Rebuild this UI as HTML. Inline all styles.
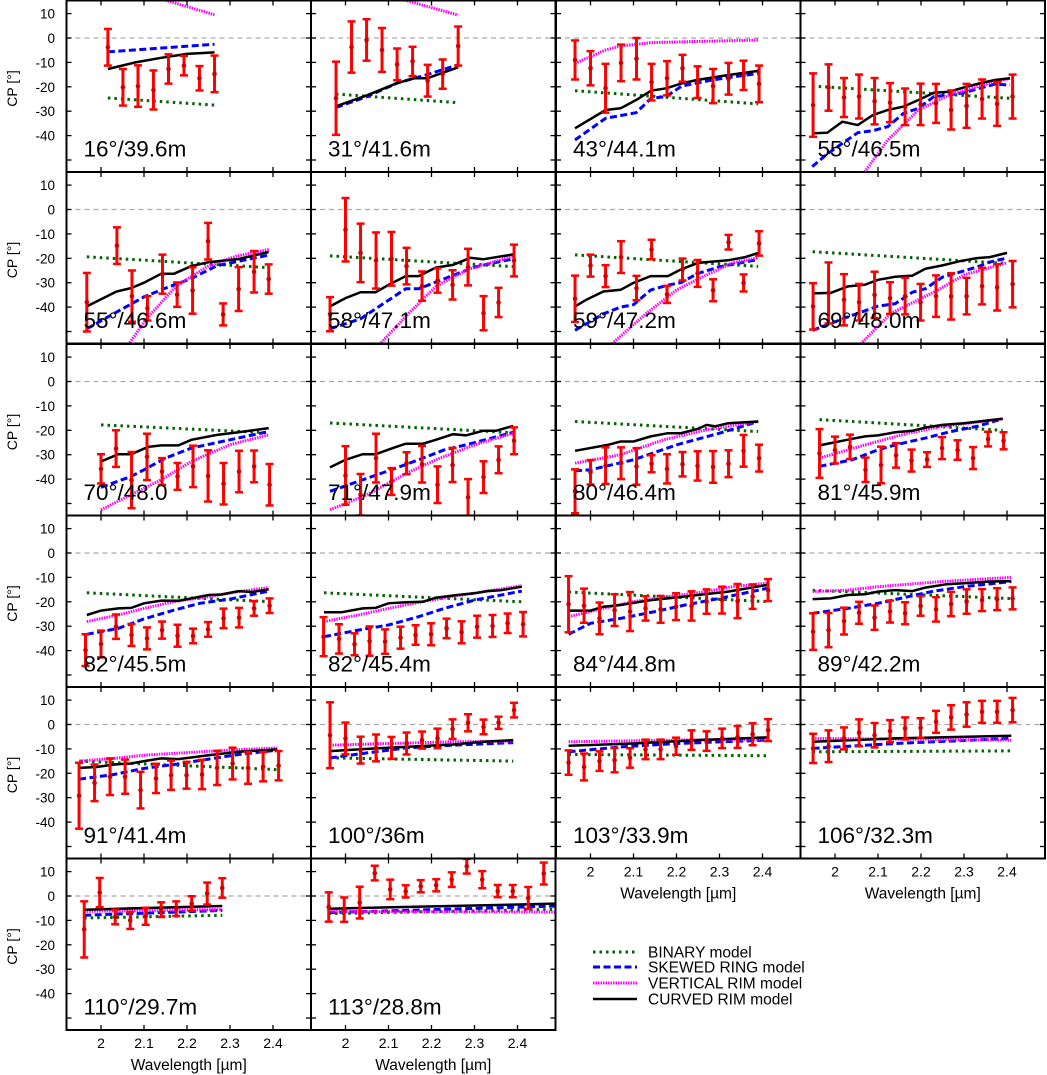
<!DOCTYPE html>
<html><head><meta charset="utf-8"><title>CP panels</title>
<style>html,body{margin:0;padding:0;background:#fff}svg{display:block;font-family:"Liberation Sans",Arial,sans-serif}</style>
</head><body>
<svg id="chart" width="1047" height="1075" viewBox="0 0 1047 1075" xmlns="http://www.w3.org/2000/svg"></svg>
<script>
// ---------- DATA ----------
const W13 = [1.964,2.0,2.035,2.071,2.107,2.142,2.178,2.214,2.249,2.285,2.321,2.356,2.392];
const W12 = [2.0,2.035,2.071,2.107,2.142,2.178,2.214,2.249,2.285,2.321,2.356,2.392];
const W14 = [1.949,1.985,2.021,2.056,2.092,2.128,2.163,2.199,2.235,2.270,2.306,2.342,2.377,2.413];
const panelLabels = ["16°/39.6m","31°/41.6m","43°/44.1m","55°/46.5m","55°/46.6m","58°/47.1m","59°/47.2m","69°/48.0m","70°/48.0","71°/47.9m","80°/46.4m","81°/45.9m","82°/45.5m","82°/45.4m","84°/44.8m","89°/42.2m","91°/41.4m","100°/36m","103°/33.9m","106°/32.3m","110°/29.7m","113°/28.8m"];
const panelRows = [0,0,0,0,1,1,1,1,2,2,2,2,3,3,3,3,4,4,4,4,5,5];
const panelCols = [0,1,2,3,0,1,2,3,0,1,2,3,0,1,2,3,0,1,2,3,0,1];
const wavelengths = [
 [2.016,2.051,2.086,2.122,2.157,2.193,2.229,2.264],
 [1.978,2.014,2.049,2.085,2.120,2.156,2.191,2.226,2.262],
 W13, W14,
 [1.967,2.037,2.072,2.108,2.143,2.177,2.213,2.249,2.284,2.32,2.356,2.39],
 W13, W13, W14, W12, W12, W13, W13, W13, W14, W14, W14, W14, W13, W14, W14,
 [1.961,1.997,2.033,2.068,2.104,2.140,2.175,2.211,2.247,2.282],
 [1.961,1.997,2.033,2.068,2.104,2.140,2.175,2.211,2.247,2.282,2.318,2.354,2.389,2.425,2.461]
];
const cpValues = [
 [-3.8,-20.2,-19.7,-21.3,-12.7,-11.3,-16.5,-14.7],
 [-24.7,-3.7,-0.8,-4.9,-10.8,-9.6,-17.5,-14.8,-3.3],
 [-9,-12.4,-20.6,-10.2,-8.5,-18.1,-16.5,-12.4,-18.1,-19.7,-16.7,-15.3,-18.8],
 [-27.5,-20.3,-24.4,-24,-25.9,-26.5,-28.2,-27.2,-26.8,-29.5,-27.8,-25,-27,-24],
 [-38,-14.8,-35.5,-40.5,-26.5,-34.9,-33.2,-13,-43,-32.6,-25.5,-28.5],
 [-42.9,-8.3,-17.8,-20.9,-20.2,-23.2,-31.4,-29.1,-30.9,-23.6,-42.5,-38.1,-20.9],
 [-36.6,-23,-27.3,-19.5,-32.2,-16.4,-34.8,-24.6,-26.2,-33.1,-13.4,-30.1,-13.9],
 [-39.7,-34.2,-37,-38,-35,-36.3,-35.5,-38,-35.5,-35.6,-35.5,-31.4,-31.9,-30.6],
 [-35.8,-27.5,-40.4,-30.9,-36.9,-38.9,-34.8,-38.7,-41.9,-36.9,-34.8,-42.3],
 [-38.5,-46.4,-31.4,-41,-33.5,-33.9,-42.3,-34.2,-47.5,-39.2,-32.1,-24.3],
 [-45,-37.2,-34.5,-33.5,-34.8,-33.7,-35.8,-33.9,-34.6,-35,-33.7,-28.4,-31.4],
 [-29.5,-28.1,-26.8,-36.2,-34.2,-30.3,-32.4,-32,-27.3,-28.1,-31.4,-23.6,-24.3],
 [-39.8,-37.3,-30.2,-33.6,-35,-31.6,-33.9,-34,-31.3,-26.8,-26.5,-22.7,-21.6],
 [-34.3,-35.2,-37.4,-36.1,-36.3,-34.7,-33.6,-33.3,-30.9,-32.5,-30.2,-29.9,-28.8,-29.2],
 [-21,-21.6,-26.8,-23.4,-24,-22.7,-23.1,-22,-21.7,-19.9,-19.3,-19.7,-17.9,-15.2],
 [-32.2,-31.6,-27.9,-24.5,-26.5,-24,-24.7,-21.7,-23.1,-20.9,-19.9,-19.3,-18.9,-18.6],
 [-29.2,-23.9,-21.4,-21.4,-26.9,-22.1,-20.8,-20.8,-20.5,-17.8,-16,-17.8,-17.3,-16.9],
 [-4.4,-5.7,-10.5,-9.6,-9.6,-7.8,-6.4,-5.7,-1.9,0.7,-1,0.7,5.9],
 [-15.6,-17.4,-15,-14.6,-13.7,-10.2,-10.2,-8.9,-6.4,-6.8,-5.7,-5.1,-4,-2.3],
 [-9.8,-8.9,-5.7,-3.4,-4.4,-2.7,-1.6,-1.4,1.1,2.9,4.1,5.2,5.2,5.9],
 [-13.7,1.4,-8.6,-10,-8.3,-5.6,-5.2,-3.1,1,3.3],
 [-4.5,-5.6,-2.7,9.4,2.7,1.9,4,4.4,6.7,12.2,6.7,2,2,-0.8,9.2]
];
const cpErrors = [
 [7.5,7.5,8.5,8,6,4,5,7.5],
 [15,10.5,8.5,9,6.5,6,6.5,6,8],
 [8,7,10,7.5,8.5,7.5,7,5.5,6.5,7,6.5,6,7.5],
 [13,9.5,8,9,9.5,8,7.5,8.5,8,8,9,8,9,9],
 [12,7.5,10.5,5,8,5,9.5,7.5,4.5,9,8.5,6],
 [7,13,12,11.5,11,7.5,6,5,6,7.5,7,6,6.5],
 [9.5,4.5,4.5,6.5,5,4,3.5,4.5,5.5,4.5,3,3.5,5],
 [9.5,12.5,10.5,7.5,9.5,6.5,7.5,7.5,8.5,9.5,7.5,7.5,9.5,9.5],
 [6,7.5,11.5,9.5,5.5,5.5,8.5,10.5,8.5,8.5,6.5,8.5],
 [12,8.5,10,5.5,4.5,7.5,7.5,7,7.5,6.5,5.5,5.5],
 [9,5,7.5,6.5,7.5,3.5,6,5,6,6.5,5.5,6.5,5.5],
 [10,5.5,5,5,7.5,5,4.5,3,4.5,4,4.5,3,3.5],
 [6.5,5.5,5,4.5,4.5,3.5,4.5,3,3,4,4,3,3],
 [8,6,4.5,6,5,4.5,4,4.5,4,4.5,4.5,4.5,4,5],
 [11.5,7,6.5,6.5,8,5,5.5,5.5,6,5,5.5,7,5,4.5],
 [7.5,7,5.5,4.5,5,4.5,4.5,4,5,5,5,4.5,4.5,4.5],
 [13.5,7.5,7.5,7,7.5,6,6,5.5,6,7,6.5,6.5,6,6],
 [13.5,6.5,5.5,5.5,4.5,4.5,3.5,4,4,3.5,3,2.5,3],
 [5,5.5,4,5,4,4,4,3.5,4,4,4,4.5,4.5,4.5],
 [6,6.5,4.5,5.5,5,4.5,4.5,4,4.5,5,5,4.5,4.5,5],
 [11.5,6,3,3.5,3.5,3,3,3,4.5,4],
 [6,5,6.5,3,4,2.5,2.5,2.5,3,3,3.5,2.5,2.5,4.5,4.5]
];
const binaryModel = [
 [[2.016,-24.6],[2.264,-27.5]],[[1.978,-23],[2.262,-26.5]],[[1.964,-21.6],[2.39,-27]],[[1.947,-19.7],[2.407,-24.7]],
 [[1.967,-19.4],[2.39,-23.8]],[[1.964,-19],[2.39,-23.4]],[[1.964,-18.6],[2.39,-23.3]],[[1.948,-17.3],[2.4,-22.1]],
 [[2.0,-17.8],[2.39,-21]],[[1.964,-17],[2.39,-21]],[[1.964,-16.4],[2.39,-20.5]],[[1.964,-15.6],[2.39,-20]],
 [[1.967,-16.3],[2.39,-19.9]],[[1.95,-16.3],[2.41,-20]],[[1.949,-16],[2.41,-19.9]],[[1.948,-15.3],[2.41,-18.7]],
 [[1.949,-15],[2.41,-18.5]],[[1.964,-13.7],[2.39,-15]],[[1.949,-12.3],[2.41,-12.8]],[[1.948,-11.2],[2.41,-10.8]],
 [[1.961,-9],[2.282,-7.9]],[[1.961,-7.2],[2.495,-5.5]]
];
const skewedRingModel = [
 [[2.016,-5.7],[2.264,-2.6]],
 [[1.978,-28.5],[2.05,-24],[2.12,-18.5],[2.19,-15],[2.262,-11]],
 [[1.964,-41.8],[2.035,-32.9],[2.106,-30.6],[2.141,-24.7],[2.176,-24],[2.212,-19.7],[2.283,-17.2],[2.39,-14.5]],
 [[1.947,-52.7],[1.982,-47.5],[2.017,-43.2],[2.053,-38.8],[2.088,-38],[2.123,-36.3],[2.159,-30.9],[2.194,-28.8],[2.23,-24],[2.265,-23.4],[2.301,-22.4],[2.336,-20.6],[2.372,-18.9],[2.407,-19.3]],
 [[1.967,-48.9],[2.04,-41.7],[2.1,-35.8],[2.15,-32.2],[2.21,-28.3],[2.27,-23],[2.39,-18.7]],
 [[1.964,-48.9],[2.035,-44.8],[2.07,-40.7],[2.14,-32.5],[2.17,-32.5],[2.25,-27],[2.3,-23.6],[2.39,-20.2]],
 [[1.964,-49.5],[2.03,-42.8],[2.07,-40],[2.1,-39],[2.14,-33],[2.18,-31],[2.21,-30],[2.25,-26.2],[2.3,-23.5],[2.39,-20.5]],
 [[1.948,-49.5],[2.03,-44],[2.1,-39.6],[2.14,-38.6],[2.18,-33.9],[2.21,-32.5],[2.25,-27.7],[2.33,-23.6],[2.36,-21.5],[2.4,-19.9]],
 [[2.0,-43.4],[2.07,-38.9],[2.1,-36.2],[2.15,-31.4],[2.21,-27.3],[2.3,-23.9],[2.39,-20.5]],
 [[1.964,-45],[2.04,-40.3],[2.1,-36.6],[2.17,-32.1],[2.23,-28],[2.28,-26],[2.39,-20.8]],
 [[1.964,-36.6],[2.0,-36.2],[2.1,-32.1],[2.2,-26],[2.3,-21.2],[2.39,-16.4]],
 [[1.964,-34.8],[2.04,-32.1],[2.1,-28],[2.14,-26],[2.21,-23.2],[2.27,-20.5],[2.33,-18.4],[2.39,-15.3]],
 [[1.967,-33.3],[2.04,-30.9],[2.1,-27],[2.17,-23.4],[2.23,-20.6],[2.3,-18.9],[2.39,-15.6]],
 [[1.95,-34.3],[2.03,-31.6],[2.1,-29.5],[2.17,-26.1],[2.23,-22.7],[2.3,-19.3],[2.41,-15.6]],
 [[1.949,-33.3],[2.0,-28.8],[2.07,-26.8],[2.15,-24],[2.22,-21.3],[2.3,-18.6],[2.41,-14.5]],
 [[1.948,-24.7],[2.03,-22.7],[2.1,-20.6],[2.17,-17.9],[2.23,-15.6],[2.3,-13.8],[2.41,-11.7]],
 [[1.949,-22.4],[2.03,-20.5],[2.1,-18],[2.17,-16.4],[2.25,-14.2],[2.32,-12.3],[2.41,-10.5]],
 [[1.964,-13.7],[2.04,-11.9],[2.14,-9.6],[2.25,-8.5],[2.39,-7.4]],
 [[1.949,-11.2],[2.07,-9.2],[2.2,-7.8],[2.41,-6.4]],
 [[1.948,-9.8],[2.14,-7.8],[2.41,-5.7]],
 [[1.961,-7.9],[2.282,-5.9]],
 [[1.961,-6.8],[2.495,-4.1]]
];
const verticalRimModel = [
 [[2.144,15.8],[2.264,9.5]],[[2.132,15.8],[2.262,9.4]],
 [[1.964,-10.4],[2.035,-4.9],[2.07,-3.3],[2.141,-1.9],[2.39,-0.8]],
 [[2.069,-54.9],[2.123,-41.8],[2.194,-29.5],[2.265,-23.4],[2.336,-19.7],[2.407,-16.5]],
 [[2.067,-54.6],[2.105,-45],[2.175,-31.4],[2.249,-23.2],[2.315,-19.1],[2.39,-16.4]],
 [[2.083,-54.6],[2.141,-43.7],[2.211,-31.4],[2.285,-24.6],[2.39,-19.1]],
 [[2.05,-55],[2.13,-42.6],[2.2,-33],[2.27,-26.8],[2.33,-21.9],[2.39,-19.8]],
 [[2.06,-55],[2.13,-42.6],[2.24,-33],[2.3,-26.8],[2.4,-21.9]],
 [[2.0,-52.6],[2.07,-46.4],[2.14,-40.3],[2.21,-32.8],[2.3,-25.9],[2.39,-21.9]],
 [[1.964,-52.6],[2.05,-46.4],[2.1,-41.7],[2.15,-36.9],[2.22,-31.4],[2.3,-26],[2.39,-21.2]],
 [[1.964,-33.5],[2.07,-30],[2.17,-23.9],[2.27,-19.8],[2.39,-16.4]],
 [[1.964,-31.4],[2.07,-26],[2.17,-21.2],[2.25,-18.4],[2.39,-15.3]],
 [[1.967,-28.1],[2.04,-25.4],[2.1,-22.7],[2.17,-19.9],[2.25,-17.9],[2.32,-15.8],[2.39,-14.2]],
 [[1.95,-28.1],[2.03,-25.4],[2.1,-22.7],[2.18,-19.9],[2.26,-17.5],[2.33,-15.6],[2.41,-13.4]],
 [[1.949,-26.1],[2.03,-22.7],[2.1,-19.9],[2.18,-17.9],[2.27,-15.8],[2.33,-13.8],[2.41,-12.4]],
 [[1.948,-15.8],[2.03,-15.2],[2.1,-13.8],[2.17,-12.8],[2.25,-11.7],[2.33,-10.8],[2.41,-10]],
 [[1.949,-15],[2.03,-13.9],[2.1,-12.6],[2.2,-11.5],[2.3,-10.5],[2.41,-9.6]],
 [[1.964,-8.5],[2.1,-7.8],[2.25,-7.1],[2.39,-6.8]],
 [[1.949,-7.1],[2.2,-6.4],[2.41,-6]],
 [[1.948,-5.7],[2.41,-6.4]],
 [[1.961,-6.3],[2.282,-5.5]],
 [[1.961,-6.3],[2.495,-6.6]]
];
const curvedRimModel = [
 [[2.016,-12.7],[2.08,-10],[2.14,-8.1],[2.2,-6.5],[2.264,-5.9]],
 [[1.978,-28],[2.05,-23.5],[2.12,-18.5],[2.16,-16.5],[2.19,-16.5],[2.262,-12]],
 [[1.964,-37],[2.035,-29.5],[2.07,-28.8],[2.106,-25.4],[2.141,-21.6],[2.176,-20.6],[2.212,-18.6],[2.247,-17.2],[2.319,-15.2],[2.39,-13.5]],
 [[1.947,-39.1],[1.982,-38.8],[2.017,-34.3],[2.053,-35.7],[2.088,-31.6],[2.123,-29.5],[2.159,-28.1],[2.194,-25.4],[2.23,-22.4],[2.265,-22],[2.301,-20.2],[2.336,-18.6],[2.372,-17.2],[2.407,-16.5]],
 [[1.967,-39.7],[2.036,-33.6],[2.07,-32.2],[2.1,-30],[2.14,-26.3],[2.17,-26.3],[2.21,-23.2],[2.25,-21.6],[2.32,-20.3],[2.39,-17.4]],
 [[1.964,-39.7],[2.0,-36.3],[2.035,-33.9],[2.07,-33.9],[2.1,-30.9],[2.14,-27.3],[2.17,-27.3],[2.21,-23.8],[2.25,-22.7],[2.29,-19.8],[2.32,-20.4],[2.39,-18.4]],
 [[1.964,-39.7],[1.99,-37],[2.03,-33.6],[2.07,-32.9],[2.1,-30.1],[2.14,-27.3],[2.18,-27.3],[2.21,-24.6],[2.25,-21.9],[2.32,-20.8],[2.36,-19.5],[2.39,-17.8]],
 [[1.948,-34.4],[1.99,-34.2],[2.03,-31.5],[2.07,-30.8],[2.1,-28.8],[2.14,-27.6],[2.18,-27.1],[2.21,-24.3],[2.25,-22.9],[2.29,-21.2],[2.33,-19.9],[2.36,-19.5],[2.4,-17.8]],
 [[2.0,-32.8],[2.04,-29.8],[2.07,-29.8],[2.11,-26.8],[2.14,-26.2],[2.18,-26.2],[2.21,-23.9],[2.27,-21.9],[2.32,-20.8],[2.39,-19.1]],
 [[1.964,-35.2],[2.0,-32.1],[2.04,-29.8],[2.07,-29.8],[2.11,-27.3],[2.14,-25.5],[2.18,-25.5],[2.21,-23.9],[2.25,-21.6],[2.28,-22.1],[2.32,-20.2],[2.35,-20.2],[2.39,-18.2]],
 [[1.964,-28.4],[2.04,-26],[2.07,-24.6],[2.1,-24.6],[2.14,-22.5],[2.18,-21.2],[2.21,-21.2],[2.25,-19.4],[2.27,-17.8],[2.29,-18.4],[2.32,-17.1],[2.39,-16.4]],
 [[1.964,-26.2],[2.04,-23.5],[2.07,-22.5],[2.1,-22.1],[2.14,-20.8],[2.18,-20.2],[2.21,-18.9],[2.25,-17.8],[2.3,-17.1],[2.39,-15.3]],
 [[1.967,-25.4],[2.0,-23.6],[2.04,-22.7],[2.07,-22.5],[2.1,-20.6],[2.14,-19.5],[2.18,-19.6],[2.21,-18.6],[2.25,-17.2],[2.28,-17],[2.32,-15.6],[2.35,-16],[2.39,-14.9]],
 [[1.95,-24.3],[1.99,-24.3],[2.04,-22.7],[2.07,-22.5],[2.1,-20.6],[2.14,-20.2],[2.18,-20],[2.21,-18.3],[2.26,-17.2],[2.3,-16.5],[2.33,-15.6],[2.36,-15.3],[2.41,-13.8]],
 [[1.949,-23.6],[2.0,-23.6],[2.03,-22],[2.07,-21.3],[2.14,-19.3],[2.18,-18.6],[2.25,-17.2],[2.32,-15.8],[2.41,-13.1]],
 [[1.948,-18.9],[1.99,-18.6],[2.03,-17.2],[2.07,-16.9],[2.1,-15.8],[2.14,-15.2],[2.18,-15.6],[2.21,-14.2],[2.26,-12.8],[2.3,-12.4],[2.36,-11.7],[2.41,-11.5]],
 [[1.949,-17.8],[1.99,-17.4],[2.03,-16.4],[2.07,-16],[2.1,-15],[2.14,-13.9],[2.18,-14.2],[2.25,-12.6],[2.32,-11.2],[2.41,-10.2]],
 [[1.964,-10.9],[2.04,-10.1],[2.14,-9.2],[2.25,-8.2],[2.32,-7.1],[2.39,-6.4]],
 [[1.949,-8.7],[2.1,-7.8],[2.25,-6.4],[2.41,-5.3]],
 [[1.948,-7.1],[2.14,-5.7],[2.41,-4.6]],
 [[1.961,-5.6],[2.282,-4.1]],
 [[1.961,-5.2],[2.495,-3.1]]
];
const yTicks = [10,0,-10,-20,-30,-40,-50];
const yTickLabels = ["10","0","-10","-20","-30","-40"];
const xTicks = [2.0,2.1,2.2,2.3,2.4];
const xTickLabels = ["2","2.1","2.2","2.3","2.4"];
const legendNames = ["BINARY model","SKEWED RING model","VERTICAL RIM model","CURVED RIM model"];

// ---------- LAYOUT ----------
const NS = "http://www.w3.org/2000/svg";
const svg = document.getElementById('chart');
const colLeft = [66.5,311,556,800.5];
const rowTop = [0.5,172,344,515.5,687,858.5];
const PW = 244.5, PH = 171.5, YS = 2.44;
const styles = {
  bin:{stroke:"#006400",w:3,dash:"2.5,4"},
  skew:{stroke:"#0000ff",w:3,dash:"7,3.5"},
  vert:{stroke:"#ff00ff",w:3,dash:"1.5,1"},
  curv:{stroke:"#000000",w:2.5,dash:null}
};
function mk(tag, attrs, parent){
  const e = document.createElementNS(NS, tag);
  for (const k in attrs) e.setAttribute(k, attrs[k]);
  (parent||svg).appendChild(e);
  return e;
}
const defs = mk('defs',{});

panelLabels.forEach((lab, i) => {
  const L = colLeft[panelCols[i]], T = rowTop[panelRows[i]];
  const xs = w => L + 34.5 + (w - 2) * 430;
  const zero = T + 37.5;
  const ys = v => zero - v * YS;
  const g = mk('g', {});
  
  
  const cp = mk('clipPath', {id:'clip'+i}, defs);
  mk('rect', {x:L, y:T, width:PW, height:PH}, cp);
  const inner = mk('g', {'clip-path':'url(#clip'+i+')'}, g);
  const zl = mk('line', {x1:L, x2:L+PW, y1:zero, y2:zero, stroke:"#aaaaaa", 'stroke-width':1.2, 'stroke-dasharray':"5,4"}, inner);
  
  
  const models = [['bin',binaryModel],['skew',skewedRingModel],['vert',verticalRimModel],['curv',curvedRimModel]];
  models.forEach(([key, arr]) => {
    const st = styles[key];
    const d = arr[i].map((p, j) => (j ? 'L' : 'M') + xs(p[0]).toFixed(1) + ',' + ys(p[1]).toFixed(1)).join('');
    const a = {d:d, fill:'none', stroke:st.stroke, 'stroke-width':st.w};
    if (st.dash) a['stroke-dasharray'] = st.dash;
    const p = mk('path', a, inner);
    
    
  });
  wavelengths[i].forEach((w, j) => {
    const x = xs(w), v = cpValues[i][j], e = cpErrors[i][j];
    const y1 = ys(v + e), y2 = ys(v - e);
    const eg = mk('g', {}, inner);
    
    
    mk('line', {x1:x, x2:x, y1:y1, y2:y2, stroke:"#ff0000", 'stroke-width':3}, eg);
    mk('line', {x1:x-4, x2:x+4, y1:y1, y2:y1, stroke:"#ff0000", 'stroke-width':2.5}, eg);
    mk('line', {x1:x-4, x2:x+4, y1:y2, y2:y2, stroke:"#ff0000", 'stroke-width':2.5}, eg);
    mk('circle', {cx:x, cy:ys(v), r:2.3, fill:"#cc0000"}, eg);
  });
  yTicks.forEach(t => {
    const y = ys(t);
    if (y > T + 1 && y < T + PH - 1) {
      mk('line', {x1:L, x2:L+5, y1:y, y2:y, stroke:"#000", 'stroke-width':1.3}, g);
      mk('line', {x1:L+PW-5, x2:L+PW, y1:y, y2:y, stroke:"#000", 'stroke-width':1.3}, g);
    }
  });
  xTicks.forEach(t => {
    const x = xs(t);
    mk('line', {x1:x, x2:x, y1:T, y2:T+5, stroke:"#000", 'stroke-width':1.3}, g);
    mk('line', {x1:x, x2:x, y1:T+PH-5, y2:T+PH, stroke:"#000", 'stroke-width':1.3}, g);
  });
  const fr = mk('rect', {x:L, y:T, width:PW, height:PH, fill:'none', stroke:'#000', 'stroke-width':2}, g);
  
  
  const tl = mk('text', {x:L+17, y:T+156, 'font-size':22.5, fill:'#000'}, g);
  tl.textContent = lab;
  
  
  if (panelCols[i] === 0) {
    yTickLabels.forEach((s, k) => {
      const t = mk('text', {x:55, y:ys(yTicks[k])+5, 'font-size':13.5, 'text-anchor':'end', fill:'#000'}, g);
      t.textContent = s;
      
      
    });
    const yt = mk('text', {x:0, y:0, 'font-size':14, 'text-anchor':'middle', fill:'#000', transform:'translate(17,'+(T+88)+') rotate(-90)'}, g);
    yt.textContent = 'CP [°]';
    
    
  }
  const hasBelow = panelRows.some((r, k) => r === panelRows[i] + 1 && panelCols[k] === panelCols[i]);
  if (!hasBelow) {
    const B = T + PH;
    xTickLabels.forEach((s, k) => {
      const t = mk('text', {x:xs(xTicks[k]), y:B+18, 'font-size':14, 'text-anchor':'middle', fill:'#000'}, g);
      t.textContent = s;
      
      
    });
    const xt = mk('text', {x:L+PW/2, y:B+40, 'font-size':15.5, 'text-anchor':'middle', fill:'#000'}, g);
    xt.textContent = 'Wavelength [µm]';
    
    
  }
});

const lg = mk('g', {});


const legendKeys = ['bin','skew','vert','curv'];
const legendY = [952,967,983,999];
legendNames.forEach((n, k) => {
  const st = styles[legendKeys[k]];
  const eg = mk('g', {}, lg);
  
  
  const a = {x1:593, x2:637, y1:legendY[k], y2:legendY[k], stroke:st.stroke, 'stroke-width':st.w};
  if (st.dash) a['stroke-dasharray'] = st.dash;
  mk('line', a, eg);
  const t = mk('text', {x:648, y:legendY[k]+5.5, 'font-size':15.5, fill:'#000'}, eg);
  t.textContent = n;
});
</script>
</body></html>
